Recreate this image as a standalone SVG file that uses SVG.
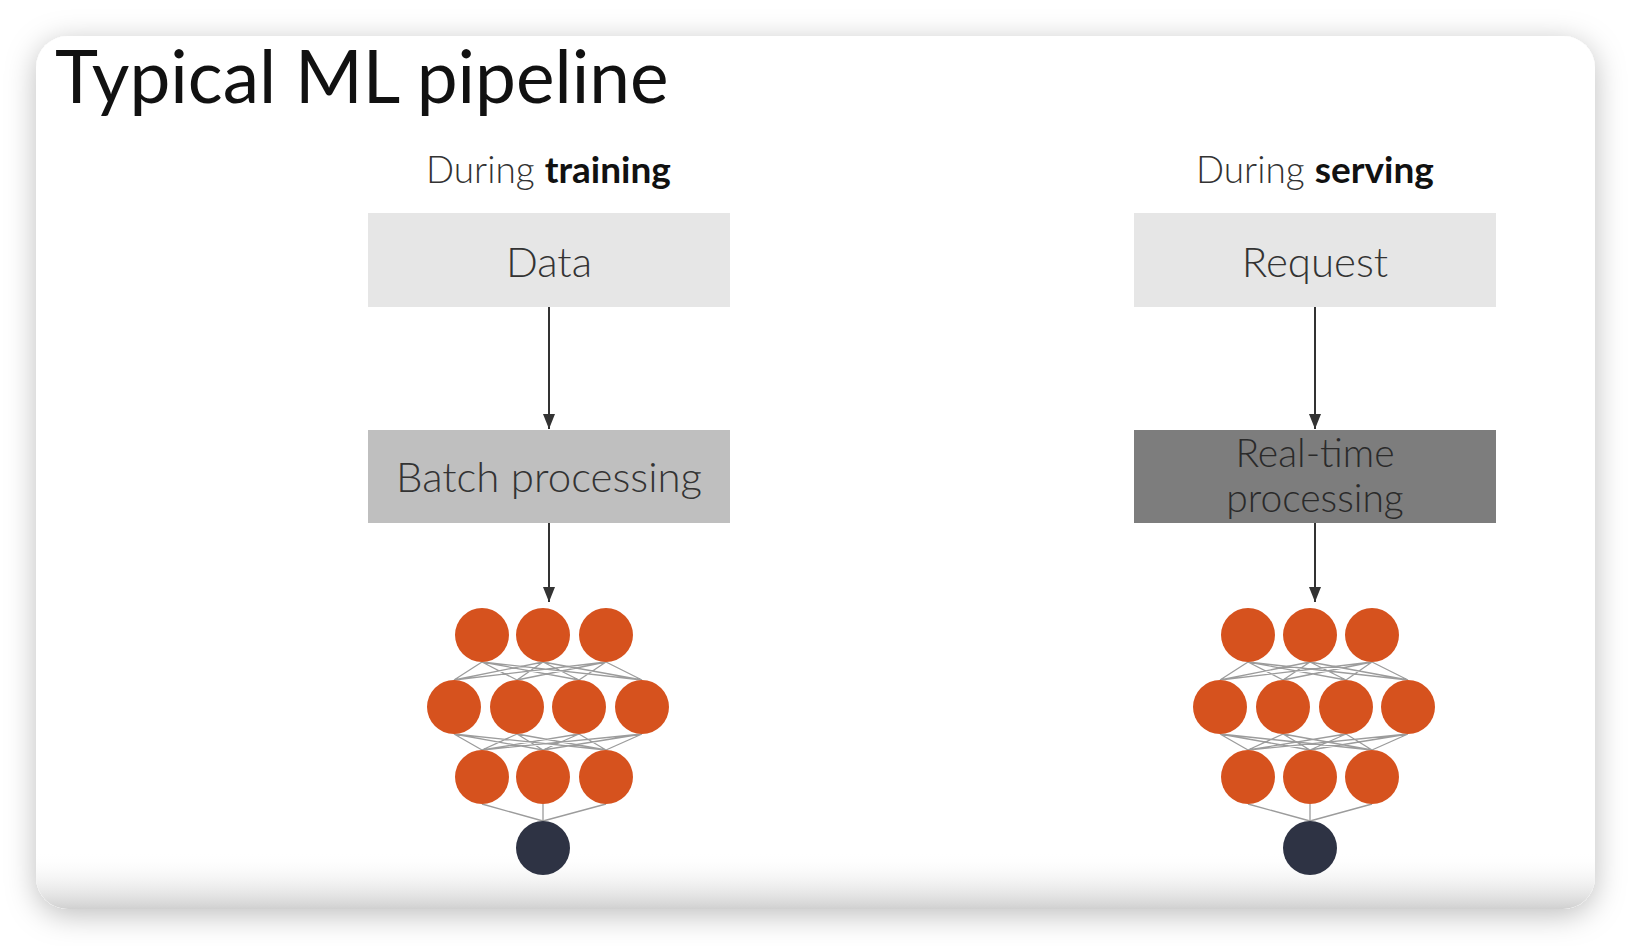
<svg xmlns="http://www.w3.org/2000/svg" width="1632" height="946" viewBox="0 0 1632 946">
  <defs>
    <filter id="cardShadow" x="-10%" y="-10%" width="120%" height="125%">
      <feDropShadow dx="0" dy="6" stdDeviation="15" flood-color="#000" flood-opacity="0.26"/>
    </filter>
    <linearGradient id="cardFloor" x1="0" y1="0" x2="0" y2="1">
      <stop offset="0" stop-color="#ffffff" stop-opacity="0"/>
      <stop offset="1" stop-color="#d0d0d0" stop-opacity="1"/>
    </linearGradient>
    <marker id="arrow" viewBox="0 0 15 12" refX="15" refY="6" markerWidth="15" markerHeight="12" markerUnits="userSpaceOnUse" orient="auto">
      <path d="M0,0 L15,6 L0,12 Z" fill="#333"/>
    </marker>
    <style>
      text { font-family: Lato, "Liberation Sans", sans-serif; }
      .title { font-size: 73px; fill: #111; }
      .phase { font-size: 37px; fill: #333; font-weight: 300; }
      .phase tspan.em { font-weight: 700; fill: #111; }
      .label { font-size: 42px; fill: #333; font-weight: 300; text-anchor: middle; }
      .label.two { font-size: 39px; fill: #2a2a2a; }
      .box-light { fill: #e6e6e6; }
      .box-mid { fill: #bfbfbf; }
      .box-dark { fill: #7d7d7d; }
      .edge { stroke: #333; stroke-width: 2; fill: none; }
      .syn { stroke: #9c9c9c; stroke-width: 1.3; fill: none; }
      .neuron { fill: #d6521e; }
      .out { fill: #2e3344; }
    </style>
  </defs>

  <!-- page background and card -->
  <rect width="1632" height="946" fill="#ffffff"/>
  <rect x="36" y="36" width="1559" height="873" rx="32" fill="#ffffff" filter="url(#cardShadow)"/>
  <path d="M36,852 H1595 V877 A32,32 0 0 1 1563,909 H68 A32,32 0 0 1 36,877 Z" fill="url(#cardFloor)"/>

  <text class="title" x="55" y="103">Typical ML pipeline</text>

  <text class="phase" x="426" y="183">During <tspan class="em">training</tspan></text>
  <text class="phase" x="1196" y="183">During <tspan class="em">serving</tspan></text>

  <!-- training column -->
  <g id="data">
    <rect class="box-light" x="368" y="213" width="362" height="94"/>
    <text class="label" x="549" y="277">Data</text>
  </g>
  <g id="batch-processing">
    <rect class="box-mid" x="368" y="430" width="362" height="93"/>
    <text class="label" x="549" y="492">Batch processing</text>
  </g>

  <!-- serving column -->
  <g id="request">
    <rect class="box-light" x="1134" y="213" width="362" height="94"/>
    <text class="label" x="1315" y="277">Request</text>
  </g>
  <g id="real-time-processing">
    <rect class="box-dark" x="1134" y="430" width="362" height="93"/>
    <text class="label two" x="1315" y="467">Real-time</text>
    <text class="label two" x="1315" y="512">processing</text>
  </g>

  <!-- connectors -->
  <g id="connectors">
    <line class="edge" x1="549" y1="307" x2="549" y2="429" marker-end="url(#arrow)"/>
    <line class="edge" x1="549" y1="523" x2="549" y2="602" marker-end="url(#arrow)"/>
    <line class="edge" x1="1315" y1="307" x2="1315" y2="429" marker-end="url(#arrow)"/>
    <line class="edge" x1="1315" y1="523" x2="1315" y2="602" marker-end="url(#arrow)"/>
  </g>

  <!-- model used for training -->
  <g id="model-training">
    <g class="syn-set">
      <!-- input row to hidden row -->
      <path class="syn" d="M482,662 L454,680 M482,662 L517,680 M482,662 L579,680 M482,662 L642,680
                           M543,662 L454,680 M543,662 L517,680 M543,662 L579,680 M543,662 L642,680
                           M606,662 L454,680 M606,662 L517,680 M606,662 L579,680 M606,662 L642,680"/>
      <!-- hidden row to third row -->
      <path class="syn" d="M454,734 L482,750 M454,734 L543,750 M454,734 L606,750
                           M517,734 L482,750 M517,734 L543,750 M517,734 L606,750
                           M579,734 L482,750 M579,734 L543,750 M579,734 L606,750
                           M642,734 L482,750 M642,734 L543,750 M642,734 L606,750"/>
      <!-- third row to output -->
      <path class="syn" d="M482,804 L543,821 M543,804 L543,821 M606,804 L543,821"/>
    </g>
    <circle class="neuron" cx="482" cy="635" r="27"/>
    <circle class="neuron" cx="543" cy="635" r="27"/>
    <circle class="neuron" cx="606" cy="635" r="27"/>
    <circle class="neuron" cx="454" cy="707" r="27"/>
    <circle class="neuron" cx="517" cy="707" r="27"/>
    <circle class="neuron" cx="579" cy="707" r="27"/>
    <circle class="neuron" cx="642" cy="707" r="27"/>
    <circle class="neuron" cx="482" cy="777" r="27"/>
    <circle class="neuron" cx="543" cy="777" r="27"/>
    <circle class="neuron" cx="606" cy="777" r="27"/>
    <circle class="out" cx="543" cy="848" r="27"/>
  </g>

  <!-- model used for serving -->
  <g id="model-serving">
    <g class="syn-set">
      <path class="syn" d="M1248,662 L1220,680 M1248,662 L1283,680 M1248,662 L1346,680 M1248,662 L1408,680
                           M1310,662 L1220,680 M1310,662 L1283,680 M1310,662 L1346,680 M1310,662 L1408,680
                           M1372,662 L1220,680 M1372,662 L1283,680 M1372,662 L1346,680 M1372,662 L1408,680"/>
      <path class="syn" d="M1220,734 L1248,750 M1220,734 L1310,750 M1220,734 L1372,750
                           M1283,734 L1248,750 M1283,734 L1310,750 M1283,734 L1372,750
                           M1346,734 L1248,750 M1346,734 L1310,750 M1346,734 L1372,750
                           M1408,734 L1248,750 M1408,734 L1310,750 M1408,734 L1372,750"/>
      <path class="syn" d="M1248,804 L1310,821 M1310,804 L1310,821 M1372,804 L1310,821"/>
    </g>
    <circle class="neuron" cx="1248" cy="635" r="27"/>
    <circle class="neuron" cx="1310" cy="635" r="27"/>
    <circle class="neuron" cx="1372" cy="635" r="27"/>
    <circle class="neuron" cx="1220" cy="707" r="27"/>
    <circle class="neuron" cx="1283" cy="707" r="27"/>
    <circle class="neuron" cx="1346" cy="707" r="27"/>
    <circle class="neuron" cx="1408" cy="707" r="27"/>
    <circle class="neuron" cx="1248" cy="777" r="27"/>
    <circle class="neuron" cx="1310" cy="777" r="27"/>
    <circle class="neuron" cx="1372" cy="777" r="27"/>
    <circle class="out" cx="1310" cy="848" r="27"/>
  </g>
</svg>
